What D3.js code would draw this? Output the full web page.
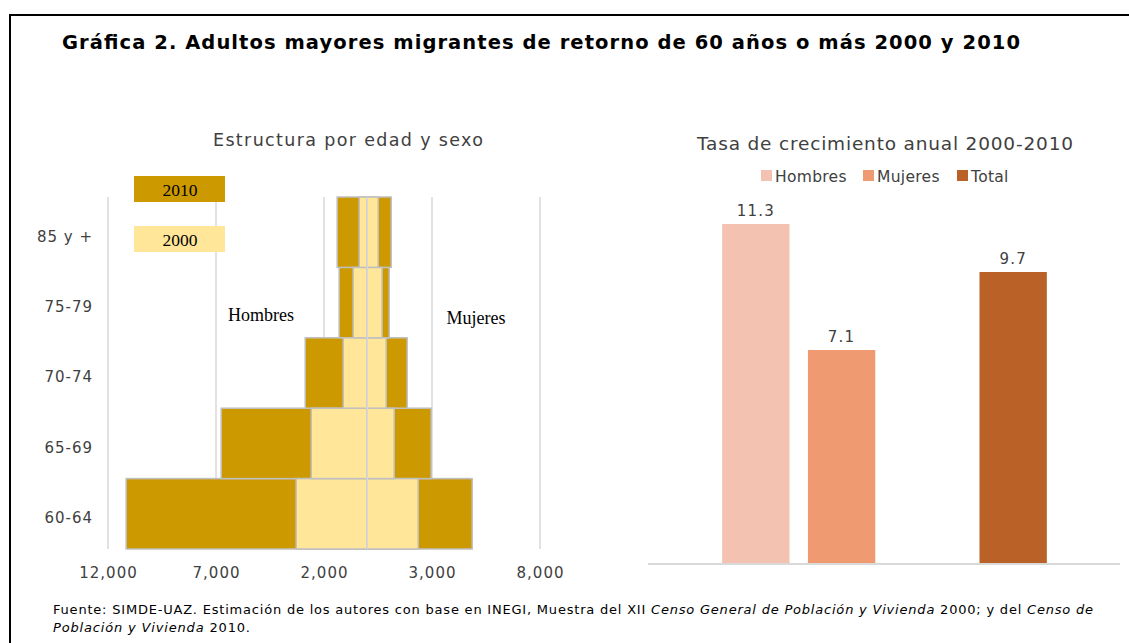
<!DOCTYPE html>
<html><head><meta charset="utf-8">
<script src="https://cdn.jsdelivr.net/npm/d3@7"></script>
<style>
body{margin:0;background:#fff;}
svg{display:block;}
</style></head>
<body>
<svg id="c" width="1129" height="643"></svg>
<script>
// ---- Data ----
const ages = ["60-64","65-69","70-74","75-79","85 y +"];
const hombres2010 = [11160, 6760, 2870, 1300, 1390];
const mujeres2010 = [4860, 2960, 1850, 1020, 1110];
const hombres2000 = [3290, 2590, 1110, 650, 370];
const mujeres2000 = [2360, 1250, 880, 690, 510];
const pyramidTicks = [-12000, -7000, -2000, 3000, 8000];

const rateCategories = ["Hombres","Mujeres","","Total"];
const rateSeries = ["Hombres","Mujeres","Total"];
const rateValues = [11.3, 7.1, 9.7];

const svg = d3.select("#c");
const sans = "'DejaVu Sans', Verdana, sans-serif";
const serif = "'Liberation Serif', 'Times New Roman', serif";
const textCol = "#404040";

// frame
svg.append("path").attr("d","M10,643 L10,15 L1129,15").attr("fill","none").attr("stroke","#000").attr("stroke-width",2);

// main title
svg.append("text").attr("x",62).attr("y",49).attr("font-family",sans).attr("font-weight","bold")
  .attr("font-size",19.5).attr("fill","#000").attr("textLength",958).attr("lengthAdjust","spacing")
  .text("Gráfica 2. Adultos mayores migrantes de retorno de 60 años o más 2000 y 2010");

// ---- Pyramid ----
const x = d3.scaleLinear().domain([-12000, 8000]).range([108, 540]);
const y = d3.scaleBand().domain(ages.slice().reverse()).range([197, 549]).padding(0);

svg.append("text").attr("x",213).attr("y",146).attr("font-family",sans)
  .attr("font-size",17.5).attr("fill",textCol).attr("textLength",270).attr("lengthAdjust","spacing")
  .text("Estructura por edad y sexo");

const gGrid = svg.append("g");
pyramidTicks.forEach(t=>{
  gGrid.append("line").attr("x1",x(t)).attr("x2",x(t)).attr("y1",197).attr("y2",549)
    .attr("stroke","#d9d9d9").attr("stroke-width",1.5);
});

const gx = svg.append("g").attr("transform","translate(0,549)")
  .call(d3.axisBottom(x).tickValues(pyramidTicks).tickSize(0).tickPadding(18).tickFormat(d=>d3.format(",")(Math.abs(d))));
gx.select(".domain").remove();
gx.selectAll("text").attr("font-family",sans).attr("font-size",15).attr("fill",textCol).attr("letter-spacing",1);

const gy = svg.append("g").attr("transform","translate(93,0)")
  .call(d3.axisLeft(y).tickSize(0).tickPadding(0));
gy.select(".domain").remove();
gy.selectAll("text").attr("font-family",sans).attr("font-size",15).attr("fill",textCol).attr("letter-spacing",1)
  .attr("dy","0.62em");

const gold = "#CC9900", light = "#FFE699", edge = "#bfbfbf";
const bars = svg.append("g");
function drawSet(vals, neg, fill){
  bars.selectAll(null).data(ages).enter().append("rect")
    .attr("x",(d,i)=> neg ? x(-vals[i]) : x(0))
    .attr("width",(d,i)=> neg ? x(0)-x(-vals[i]) : x(vals[i])-x(0))
    .attr("y",d=>y(d)).attr("height",y.bandwidth())
    .attr("fill",fill).attr("stroke",edge).attr("stroke-width",1.5);
}
drawSet(hombres2010, true, gold);
drawSet(mujeres2010, false, gold);
drawSet(hombres2000, true, light);
drawSet(mujeres2000, false, light);
// center line
svg.append("line").attr("x1",x(0)).attr("x2",x(0)).attr("y1",197).attr("y2",549)
  .attr("stroke","#d9d9d9").attr("stroke-width",1.5);

// pyramid legend
const legYears = [["2010",gold,176],["2000",light,226]];
legYears.forEach(([t,c,yy])=>{
  svg.append("rect").attr("x",134).attr("y",yy).attr("width",91).attr("height",26).attr("fill",c);
  svg.append("text").attr("x",180).attr("y",yy+20).attr("text-anchor","middle").attr("font-family",serif)
    .attr("font-size",17.5).attr("fill","#000").text(t);
});
svg.append("text").attr("x",261).attr("y",321).attr("text-anchor","middle").attr("font-family",serif)
  .attr("font-size",18).attr("fill","#000").text("Hombres");
svg.append("text").attr("x",476).attr("y",324).attr("text-anchor","middle").attr("font-family",serif)
  .attr("font-size",18).attr("fill","#000").text("Mujeres");

// ---- Growth rate chart ----
const rateColors = {"Hombres":"#F4C2B0","Mujeres":"#F09A72","Total":"#B96127"};
const xb = d3.scaleBand().domain(rateCategories).range([705,1064]).paddingInner(0.215).paddingOuter(0.2);
const yr = d3.scaleLinear().domain([0,12]).range([563,203]);

svg.append("text").attr("x",697).attr("y",150).attr("font-family",sans)
  .attr("font-size",18.5).attr("fill",textCol).attr("textLength",376).attr("lengthAdjust","spacing")
  .text("Tasa de crecimiento anual 2000-2010");

// legend
const legX = [761, 863, 957];
rateSeries.forEach((s,i)=>{
  svg.append("rect").attr("x",legX[i]).attr("y",170).attr("width",11).attr("height",11).attr("fill",rateColors[s]);
  svg.append("text").attr("x",legX[i]+14).attr("y",182).attr("font-family",sans).attr("font-size",15.5)
    .attr("fill",textCol).attr("letter-spacing",0.3).text(s);
});

rateSeries.forEach((s,i)=>{
  svg.append("rect").attr("x",xb(s)).attr("width",xb.bandwidth())
    .attr("y",yr(rateValues[i])).attr("height",yr(0)-yr(rateValues[i])).attr("fill",rateColors[s]);
  svg.append("text").attr("x",xb(s)+xb.bandwidth()/2).attr("y",yr(rateValues[i])-8)
    .attr("text-anchor","middle").attr("font-family",sans).attr("font-size",15).attr("fill",textCol)
    .attr("letter-spacing",1.2).text(rateValues[i].toFixed(1));
});
svg.append("line").attr("x1",648).attr("x2",1120).attr("y1",yr(0)+1).attr("y2",yr(0)+1)
  .attr("stroke","#d9d9d9").attr("stroke-width",2);

// ---- Footer ----
const f1 = svg.append("text").attr("x",53).attr("y",614).attr("font-family",sans).attr("font-size",13)
  .attr("fill","#000").attr("textLength",1040).attr("lengthAdjust","spacing");
f1.append("tspan").text("Fuente: SIMDE-UAZ. Estimación de los autores con base en INEGI, Muestra del XII ");
f1.append("tspan").attr("font-style","italic").text("Censo General de Población y Vivienda");
f1.append("tspan").text(" 2000; y del ");
f1.append("tspan").attr("font-style","italic").text("Censo de");
const f2 = svg.append("text").attr("x",53).attr("y",632).attr("font-family",sans).attr("font-size",13)
  .attr("fill","#000").attr("textLength",197).attr("lengthAdjust","spacing");
f2.append("tspan").attr("font-style","italic").text("Población y Vivienda");
f2.append("tspan").text(" 2010.");
</script>
</body></html>
